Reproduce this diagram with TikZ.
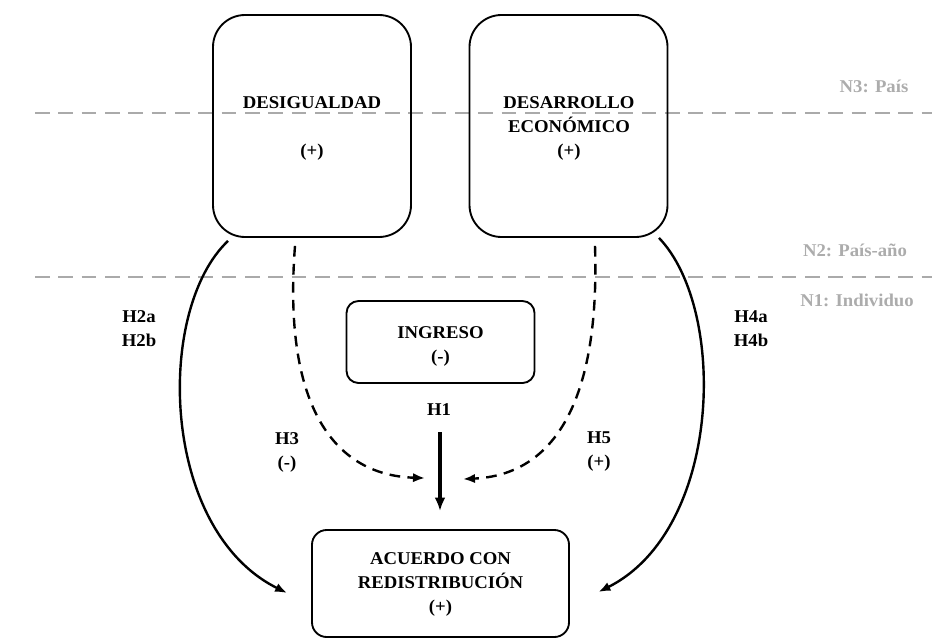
\documentclass[tikz,border=0pt]{standalone}
\usepackage{fontspec}
\setmainfont{Liberation Serif}[FakeStretch=1.04]
\usetikzlibrary{arrows.meta,calc}
\definecolor{lvlline}{RGB}{170,170,170}
\definecolor{lvltext}{RGB}{172,172,172}
\begin{document}
\begin{tikzpicture}[x=0.75pt,y=-0.75pt,
  box/.style={draw, line width=1.4pt, rounded corners=#1, inner sep=0pt},
  lbl/.style={font=\fontsize{13.5}{18}\selectfont\bfseries, align=center, inner sep=0pt},
  lvl/.style={lbl, text=lvltext},
  sepline/.style={draw=lvlline, line width=1.2pt, dash pattern=on 11pt off 6.5pt},
  link/.style={line width=1.8pt, -{Latex[length=9pt,width=7pt]}},
  dlink/.style={line width=1.8pt, dash pattern=on 8pt off 5.5pt, -{Latex[length=9pt,width=7pt]}},
  main/.style={line width=2.6pt, -{Latex[length=10pt,width=8pt]}}]
\useasboundingbox (0,0) rectangle (948,642);

% level separators
\draw[sepline] (35,113) -- (932,113);
\draw[sepline] (35,277) -- (932,277);
\node[lvl] (n3) at (874,86) {N3: País};
\node[lvl] (n2) at (855,250) {N2: País-año};
\node[lvl] (n1) at (857,300) {N1: Individuo};

% boxes
\node[box=24pt, minimum width=148.5pt, minimum height=166.5pt] (des) at (312,126) {};
\node[box=24pt, minimum width=148.5pt, minimum height=166.5pt] (dec) at (568.5,126) {};
\node[box=9pt, minimum width=141pt, minimum height=61.5pt] (ing) at (440.5,342) {};
\node[box=11pt, minimum width=192.75pt, minimum height=80.25pt] (acu) at (440.5,583.5) {};

% box texts
\node[lbl] (desT) at (312,103) {DESIGUALDAD};
\node[lbl] (desS) at (312,152) {(+)};
\node[lbl] (decT) at (569,115) {DESARROLLO\\ECONÓMICO};
\node[lbl] (decS) at (569,152) {(+)};
\node[lbl] (ingT) at (440.5,346) {INGRESO\\(-)};
\node[lbl] (acuT) at (440.5,584) {ACUERDO CON\\REDISTRIBUCIÓN\\(+)};

% hypothesis labels
\node[lbl] (h1) at (439,410) {H1};
\node[lbl] (h2) at (139,329) {H2a\\H2b};
\node[lbl] (h4) at (751,329) {H4a\\H4b};
\node[lbl] (h3) at (287,452) {H3\\(-)};
\node[lbl] (h5) at (599,452) {H5\\(+)};

% connector end points
\coordinate (sL) at ($(des.south)+(-84,3)$);
\coordinate (sLd) at ($(des.south)+(-17,8)$);
\coordinate (sR) at ($(dec.south)+(90.5,0)$);
\coordinate (sRd) at ($(dec.south)+(26.5,8)$);
\coordinate (eL) at ($(acu.west)+(-24,9.5)$);
\coordinate (eR) at ($(acu.east)+(28.5,8.5)$);
\coordinate (eLd) at ($(acu.north)+(-15.5,-51)$);
\coordinate (eRd) at ($(acu.north)+(22.5,-50)$);
\coordinate (h1s) at ($(h1.south)+(1,16)$);
\coordinate (h1e) at ($(acu.north)+(-0.5,-18)$);

% connectors
\draw[link] (sL) .. controls (155,310) and (160,530) .. (eL);
\draw[link] (sR) .. controls (728,310) and (722,530) .. (eR);
\draw[dlink] (sLd) .. controls (283,400) and (330,475) .. (eLd);
\draw[dlink] (sRd) .. controls (600,400) and (555,475) .. (eRd);
\draw[main] (h1s) -- (h1e);
\end{tikzpicture}
\end{document}
